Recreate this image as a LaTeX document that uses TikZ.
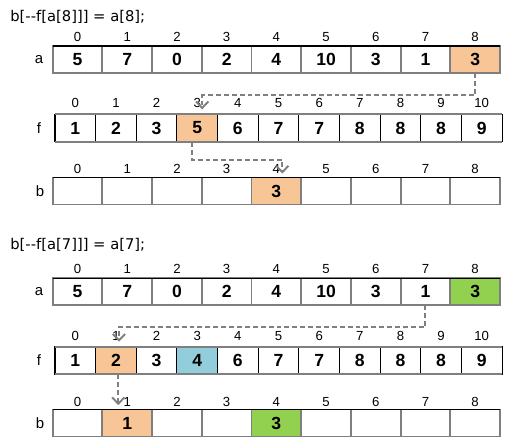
\documentclass[tikz,border=0pt]{standalone}
\usepackage{fontspec}
\setmainfont{Liberation Sans}
\newfontfamily\codefont{DejaVu Sans}
\usepackage{tikz}
\usetikzlibrary{arrows.meta, calc}
\definecolor{Peach}{HTML}{F8C597}
\definecolor{Leaf}{HTML}{92D050}
\definecolor{Sky}{HTML}{92CDDC}
\definecolor{Edge}{HTML}{7F7F7F}

\begin{document}
\begin{tikzpicture}[
    x=0.02cm, y=-0.02cm,
    cellA/.style={draw=Edge, line width=1.1pt, minimum width=0.994cm, minimum height=0.54cm, inner sep=0pt, outer sep=0pt, font=\fontsize{10}{12}\selectfont\bfseries},
    cellF/.style={draw=black, line width=0.6pt, minimum width=0.8128cm, minimum height=0.548cm, inner sep=0pt, outer sep=0pt, font=\fontsize{10}{12}\selectfont\bfseries},
    idx/.style={font=\fontsize{7.5}{9}\selectfont, inner sep=0pt},
    row/.style={font=\fontsize{8.5}{10}\selectfont, inner sep=0pt},
    code/.style={font=\codefont\fontsize{8.4}{10}\selectfont, anchor=west, inner sep=0pt},
    topline/.style={black, line width=0.6pt},
    rimline/.style={Edge, line width=1.1pt},
    flow/.style={Edge, line width=1.1pt, dash pattern=on 2.8pt off 1.7pt, -{Straight Barb[length=3.6pt, width=7pt]}}
]
\useasboundingbox (0,0) rectangle (524,447);

% ---- step 1: a[8] ----
\node[code] (code1) at (10,17) {b[-{}-f[a[8]]] = a[8];};

% array a
\node[row] (ra1) at (39,59.5) {a};
\foreach \v/\c [count=\i from 0] in {5/white,7/white,0/white,2/white,4/white,10/white,3/white,1/white,3/Peach}
  \node[cellA, fill=\c] (a1-\i) at (77.55+49.7*\i, 59.5) {\v};
\foreach \i in {0,...,8}
  \node[idx] (ia1-\i) at (77.55+49.7*\i, 36.7) {\i};
\draw[topline] (a1-0.north west) -- (a1-8.north east);

% array f
\node[row] (rf1) at (39,128) {f};
\foreach \v/\c [count=\i from 0] in {1/white,2/white,3/white,5/Peach,6/white,7/white,7/white,8/white,8/white,8/white,9/white}
  \node[cellF, fill=\c] (f1-\i) at (75.32+40.64*\i, 128) {\v};
\foreach \i in {0,...,10}
  \node[idx] (if1-\i) at (75.32+40.64*\i, 102.7) {\i};
\draw[rimline] (f1-0.north west) -- (f1-10.north east);
\draw[rimline] (f1-0.south west) -- (f1-10.south east);

% array b
\node[row] (rb1) at (40,191) {b};
\foreach \v/\c [count=\i from 0] in {/white,/white,/white,/white,3/Peach,/white,/white,/white,/white}
  \node[cellA, fill=\c] (b1-\i) at (77.55+49.7*\i, 191) {\v};
\foreach \i in {0,...,8}
  \node[idx] (ib1-\i) at (77.55+49.7*\i, 169) {\i};
\draw[topline] (b1-0.north west) -- (b1-8.north east);

\draw[flow] (a1-8.south) -- ++(0,22.4) -| ($(f1-3.north)+(5,-5)$);
\draw[flow] ($(f1-3.south)+(-5,0)$) -- ++(0,18.3) -| ($(b1-4.north)+(6,-4)$);

% ---- step 2: a[7] ----
\node[code] (code2) at (10,245) {b[-{}-f[a[7]]] = a[7];};

% array a
\node[row] (ra2) at (39,291.7) {a};
\foreach \v/\c [count=\i from 0] in {5/white,7/white,0/white,2/white,4/white,10/white,3/white,1/white,3/Leaf}
  \node[cellA, fill=\c] (a2-\i) at (77.55+49.7*\i, 291.7) {\v};
\foreach \i in {0,...,8}
  \node[idx] (ia2-\i) at (77.55+49.7*\i, 269) {\i};
\draw[topline] (a2-0.north west) -- (a2-8.north east);

% array f
\node[row] (rf2) at (39,360.4) {f};
\foreach \v/\c [count=\i from 0] in {1/white,2/Peach,3/white,4/Sky,6/white,7/white,7/white,8/white,8/white,8/white,9/white}
  \node[cellF, fill=\c] (f2-\i) at (75.32+40.64*\i, 360.4) {\v};
\foreach \i in {0,...,10}
  \node[idx] (if2-\i) at (75.32+40.64*\i, 335.7) {\i};
\draw[rimline] (f2-0.north west) -- (f2-10.north east);
\draw[rimline] (f2-0.south west) -- (f2-10.south east);

% array b
\node[row] (rb2) at (40,423) {b};
\foreach \v/\c [count=\i from 0] in {/white,1/Peach,/white,/white,3/Leaf,/white,/white,/white,/white}
  \node[cellA, fill=\c] (b2-\i) at (77.55+49.7*\i, 423) {\v};
\foreach \i in {0,...,8}
  \node[idx] (ib2-\i) at (77.55+49.7*\i, 401.7) {\i};
\draw[topline] (b2-0.north west) -- (b2-8.north east);

\draw[flow] (a2-7.south) -- ++(0,22) -| ($(f2-1.north)+(3,-5)$);
\draw[flow] ($(f2-1.south)+(2.3,0)$) -- ($(f2-1.south)+(2.3,31)$);

\end{tikzpicture}
\end{document}
